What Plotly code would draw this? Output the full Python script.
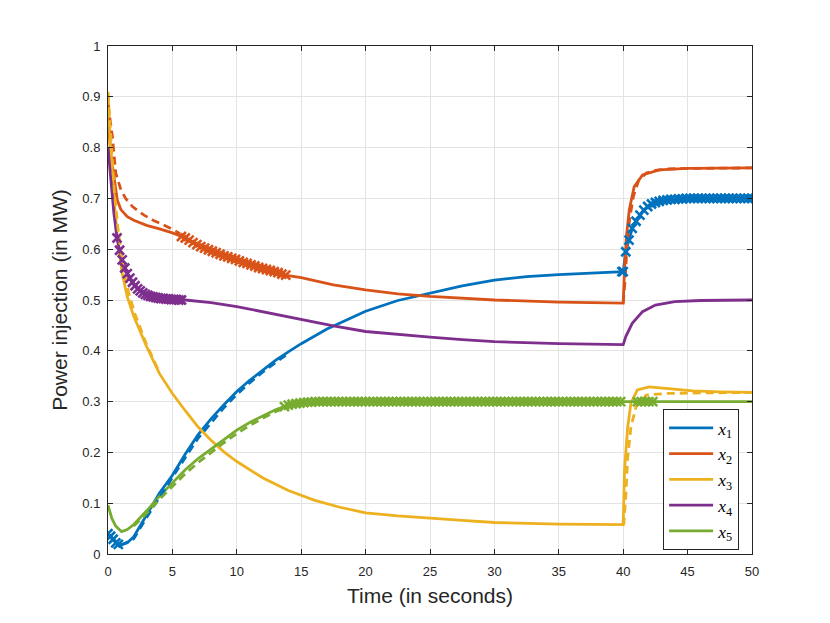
import plotly.graph_objects as go

# solid curves
t1 = [0, 0.3, 0.6, 0.8, 1.0, 1.5, 2, 2.5, 3, 4, 5, 6, 7, 8, 9, 10, 11, 12, 13, 14, 15, 17, 20, 22.5, 25,
      27.5, 30, 32.5, 35, 37.5, 40, 40.2, 40.45, 40.7, 41.0, 41.6, 42.5, 43.5, 45, 47, 50]
x1 = [0.040, 0.032, 0.023, 0.019, 0.018, 0.022, 0.034, 0.055, 0.078, 0.120, 0.155, 0.197, 0.235, 0.266,
      0.294, 0.320, 0.342, 0.362, 0.381, 0.398, 0.414, 0.443, 0.478, 0.499, 0.514, 0.528, 0.539, 0.546,
      0.550, 0.553, 0.556, 0.595, 0.618, 0.641, 0.655, 0.677, 0.692, 0.697, 0.699, 0.700, 0.700]

t2 = [0, 0.2, 0.46, 0.72, 1.0, 1.5, 2, 3, 4, 5, 6, 7, 8, 9, 10, 11, 12, 13, 14, 15, 17.5, 20, 22.5, 25,
      27.5, 30, 35, 40, 40.1, 40.25, 40.47, 40.85, 41.5, 42.8, 45, 50]
x2 = [0.860, 0.790, 0.743, 0.697, 0.678, 0.664, 0.657, 0.647, 0.640, 0.632, 0.622, 0.607, 0.597, 0.587,
      0.579, 0.570, 0.562, 0.555, 0.548, 0.544, 0.530, 0.520, 0.512, 0.507, 0.503, 0.500, 0.496, 0.494,
      0.560, 0.625, 0.677, 0.723, 0.746, 0.756, 0.759, 0.760]

t3 = [0, 0.2, 0.46, 0.72, 1.1, 1.5, 2, 3, 4, 5, 6, 7, 8, 9, 10, 12, 14, 16, 18, 20, 22.5, 25, 27.5, 30,
      35, 40, 40.1, 40.35, 40.6, 41.1, 42.0, 43.3, 45.4, 47.5, 50]
x3 = [0.910, 0.800, 0.703, 0.625, 0.552, 0.506, 0.468, 0.408, 0.355, 0.316, 0.282, 0.250, 0.224, 0.201,
      0.182, 0.150, 0.125, 0.106, 0.092, 0.081, 0.075, 0.070, 0.066, 0.062, 0.059, 0.058, 0.165, 0.250,
      0.297, 0.323, 0.329, 0.326, 0.321, 0.319, 0.318]

t4 = [0, 0.2, 0.46, 0.72, 1.1, 1.6, 2.27, 3.3, 5, 6, 8, 10, 12.5, 15, 17.5, 20, 22.5, 25, 27.5, 30, 35,
      40, 40.2, 40.7, 41.5, 42.5, 44, 46, 50]
x4 = [0.800, 0.736, 0.670, 0.618, 0.579, 0.546, 0.523, 0.508, 0.501, 0.500, 0.495, 0.487, 0.474, 0.461,
      0.449, 0.438, 0.432, 0.427, 0.422, 0.418, 0.414, 0.412, 0.428, 0.454, 0.477, 0.490, 0.497, 0.499,
      0.500]

t5 = [0, 0.3, 0.6, 1.06, 1.5, 2, 3, 4, 5, 6, 7, 8, 9, 10, 11, 12, 13, 14, 15, 16, 18, 20, 30, 40, 45, 50]
x5 = [0.096, 0.070, 0.055, 0.044, 0.048, 0.058, 0.085, 0.114, 0.140, 0.166, 0.188, 0.207, 0.226, 0.244,
      0.259, 0.272, 0.284, 0.293, 0.297, 0.299, 0.300, 0.300, 0.300, 0.300, 0.300, 0.300]

# dashed curves (only where they differ from the solid ones)
t1d = [1.0, 2, 3, 4, 5, 6, 7, 8, 9, 10, 11, 12, 13, 14]
x1d = [0.017, 0.030, 0.072, 0.112, 0.150, 0.190, 0.228, 0.259, 0.288, 0.314, 0.337, 0.358, 0.377, 0.395]

t2d_a = [0, 0.34, 0.6, 1.0, 1.37, 1.9, 2.8, 3.5, 4.3, 5.1, 5.6]
x2d_a = [0.884, 0.822, 0.750, 0.717, 0.700, 0.684, 0.667, 0.657, 0.648, 0.638, 0.630]
t2d_b = [40, 40.15, 40.3, 40.5, 40.8, 41.2, 41.8, 42.5, 43.5, 45, 50]
x2d_b = [0.494, 0.540, 0.610, 0.660, 0.705, 0.735, 0.750, 0.755, 0.758, 0.759, 0.760]

t3d_a = [0, 0.25, 0.5, 0.8, 1.2, 1.6, 2.1, 3, 4]
x3d_a = [0.905, 0.800, 0.710, 0.635, 0.562, 0.515, 0.472, 0.412, 0.357]
t3d_b = [39.9, 40.05, 40.2, 40.35, 40.6, 41.0, 41.8, 43.3, 46, 50]
x3d_b = [0.058, 0.060, 0.113, 0.190, 0.250, 0.290, 0.313, 0.316, 0.317, 0.318]

t5d = [2, 3, 4, 5, 6, 7, 8, 9, 10, 11, 12, 13, 14]
x5d = [0.055, 0.080, 0.108, 0.133, 0.158, 0.180, 0.200, 0.219, 0.237, 0.253, 0.267, 0.280, 0.290]

# cross markers
m1t = [0.0, 0.2, 0.4, 0.6, 0.8,
       39.9, 40.0, 40.2, 40.45, 40.7, 41.0, 41.3, 41.6, 41.9, 42.2, 42.5, 42.8, 43.1, 43.4, 43.7, 44.0,
       44.3, 44.6, 44.9, 45.2, 45.5, 45.8, 46.1, 46.4, 46.7, 47.0, 47.3, 47.6, 47.9, 48.2, 48.5, 48.8,
       49.1, 49.4, 49.7, 50.0]
m1y = [0.040, 0.035, 0.029, 0.022, 0.019,
       0.556, 0.556, 0.595, 0.618, 0.641, 0.655, 0.667, 0.677, 0.684, 0.689, 0.692, 0.694, 0.696, 0.697,
       0.698, 0.698, 0.699, 0.699, 0.700, 0.700, 0.700, 0.700, 0.700, 0.700, 0.700, 0.700, 0.700, 0.700,
       0.700, 0.700, 0.700, 0.700, 0.700, 0.700, 0.700, 0.700]

m2t = [5.7, 6.0, 6.3, 6.6, 6.9, 7.2, 7.5, 7.8, 8.1, 8.4, 8.7, 9.0, 9.3, 9.6, 9.9, 10.2, 10.5, 10.8,
       11.1, 11.4, 11.7, 12.0, 12.3, 12.6, 12.9, 13.2, 13.5, 13.8]
m2y = [0.625, 0.622, 0.618, 0.613, 0.609, 0.605, 0.602, 0.599, 0.596, 0.593, 0.590, 0.587, 0.585, 0.582,
       0.580, 0.577, 0.574, 0.572, 0.569, 0.567, 0.564, 0.562, 0.560, 0.558, 0.556, 0.554, 0.551, 0.549]

m4t = [0.7, 0.9, 1.1, 1.3, 1.5, 1.7, 1.9, 2.1, 2.3, 2.5, 2.7, 2.9, 3.1, 3.3, 3.5, 3.7, 3.9, 4.1, 4.3,
       4.5, 4.7, 4.9, 5.1, 5.3, 5.5, 5.7]
m4y = [0.622, 0.598, 0.579, 0.563, 0.552, 0.543, 0.535, 0.528, 0.522, 0.518, 0.514, 0.511, 0.509, 0.507,
       0.506, 0.505, 0.504, 0.503, 0.503, 0.502, 0.502, 0.501, 0.501, 0.501, 0.500, 0.500]

m5t = [13.7, 14.0, 14.3, 14.6, 14.9, 15.2, 15.5, 15.8,
       16.1, 16.4, 16.7, 17.0, 17.3, 17.6, 17.9, 18.2, 18.5, 18.8,
       19.1, 19.4, 19.7, 20.0, 20.3, 20.6, 20.9, 21.2, 21.5, 21.8,
       22.1, 22.4, 22.7, 23.0, 23.3, 23.6, 23.9, 24.2, 24.5, 24.8,
       25.1, 25.4, 25.7, 26.0, 26.3, 26.6, 26.9, 27.2, 27.5, 27.8,
       28.1, 28.4, 28.7, 29.0, 29.3, 29.6, 29.9, 30.2, 30.5, 30.8,
       31.1, 31.4, 31.7, 32.0, 32.3, 32.6, 32.9, 33.2, 33.5, 33.8,
       34.1, 34.4, 34.7, 35.0, 35.3, 35.6, 35.9, 36.2, 36.5, 36.8,
       37.1, 37.4, 37.7, 38.0, 38.3, 38.6, 38.9, 39.2, 39.5, 39.8,
       41.1, 41.4, 41.7, 42.0, 42.3]
m5y = [0.290, 0.293, 0.295, 0.296, 0.297, 0.298, 0.299, 0.299,
       0.3, 0.3, 0.3, 0.3, 0.3, 0.3, 0.3, 0.3, 0.3, 0.3,
       0.3, 0.3, 0.3, 0.3, 0.3, 0.3, 0.3, 0.3, 0.3, 0.3,
       0.3, 0.3, 0.3, 0.3, 0.3, 0.3, 0.3, 0.3, 0.3, 0.3,
       0.3, 0.3, 0.3, 0.3, 0.3, 0.3, 0.3, 0.3, 0.3, 0.3,
       0.3, 0.3, 0.3, 0.3, 0.3, 0.3, 0.3, 0.3, 0.3, 0.3,
       0.3, 0.3, 0.3, 0.3, 0.3, 0.3, 0.3, 0.3, 0.3, 0.3,
       0.3, 0.3, 0.3, 0.3, 0.3, 0.3, 0.3, 0.3, 0.3, 0.3,
       0.3, 0.3, 0.3, 0.3, 0.3, 0.3, 0.3, 0.3, 0.3, 0.3,
       0.3, 0.3, 0.3, 0.3, 0.3]

x_ticks = [0, 5, 10, 15, 20, 25, 30, 35, 40, 45, 50]
x_labels = ['0', '5', '10', '15', '20', '25', '30', '35', '40', '45', '50']
y_ticks = [0, 0.1, 0.2, 0.3, 0.4, 0.5, 0.6, 0.7, 0.8, 0.9, 1]
y_labels = ['0', '0.1', '0.2', '0.3', '0.4', '0.5', '0.6', '0.7', '0.8', '0.9', '1']

names = ['<i>x</i><sub>1</sub>', '<i>x</i><sub>2</sub>', '<i>x</i><sub>3</sub>',
         '<i>x</i><sub>4</sub>', '<i>x</i><sub>5</sub>']
colors = ['#0072BD', '#D95319', '#EDB120', '#7E2F8E', '#77AC30']
LW = 2.8
DASH = '8px,5px'

fig = go.Figure()

solid = [(t1, x1), (t2, x2), (t3, x3), (t4, x4), (t5, x5)]
for i, (t, x) in enumerate(solid):
    fig.add_trace(go.Scatter(x=t, y=x, mode='lines', name=names[i],
                             line=dict(color=colors[i], width=LW)))

dashed = [(t1d, x1d, 0), (t2d_a, x2d_a, 1), (t2d_b, x2d_b, 1),
          (t3d_a, x3d_a, 2), (t3d_b, x3d_b, 2), (t5d, x5d, 4)]
for t, x, c in dashed:
    fig.add_trace(go.Scatter(x=t, y=x, mode='lines', showlegend=False,
                             line=dict(color=colors[c], width=LW, dash=DASH)))

marks = [(m1t, m1y, 0), (m2t, m2y, 1), (m4t, m4y, 3), (m5t, m5y, 4)]
for t, x, c in marks:
    fig.add_trace(go.Scatter(x=t, y=x, mode='markers', showlegend=False,
                             marker=dict(symbol='x-thin', size=9, color=colors[c],
                                         line=dict(color=colors[c], width=2.6))))

axis_font = dict(family='Liberation Sans, Arial, sans-serif', size=13, color='#262626')

# the page puts the figure 8px in from the top-left corner
fig.update_layout(
    width=830, height=623,
    margin=dict(l=100, r=86, t=38, b=77),
    paper_bgcolor='white', plot_bgcolor='white',
    font=axis_font,
    xaxis=dict(range=[0, 50], tickvals=x_ticks, ticktext=x_labels,
               showgrid=True, gridcolor='#e3e3e3', gridwidth=1, zeroline=False,
               showline=True, linecolor='#262626', linewidth=1, mirror='ticks',
               ticks='inside', ticklen=5, tickcolor='#262626', ticklabelstandoff=5,
               title=dict(text='Time (in seconds)', font=dict(size=21, color='#262626'), standoff=10)),
    yaxis=dict(range=[0, 1], tickvals=y_ticks, ticktext=y_labels,
               showgrid=True, gridcolor='#e3e3e3', gridwidth=1, zeroline=False,
               showline=True, linecolor='#262626', linewidth=1, mirror='ticks',
               ticks='inside', ticklen=5, tickcolor='#262626', ticklabelstandoff=4,
               title=dict(text='Power injection (in MW)', font=dict(size=21, color='#262626'), standoff=8)),
    legend=dict(x=0.862, y=0.008, xanchor='left', yanchor='bottom',
                bgcolor='white', bordercolor='#262626', borderwidth=1,
                font=dict(family='Liberation Serif, serif', size=17.5, color='#000000'),
                itemwidth=44, tracegroupgap=0),
    showlegend=True,
)

fig.write_html("out.html")
